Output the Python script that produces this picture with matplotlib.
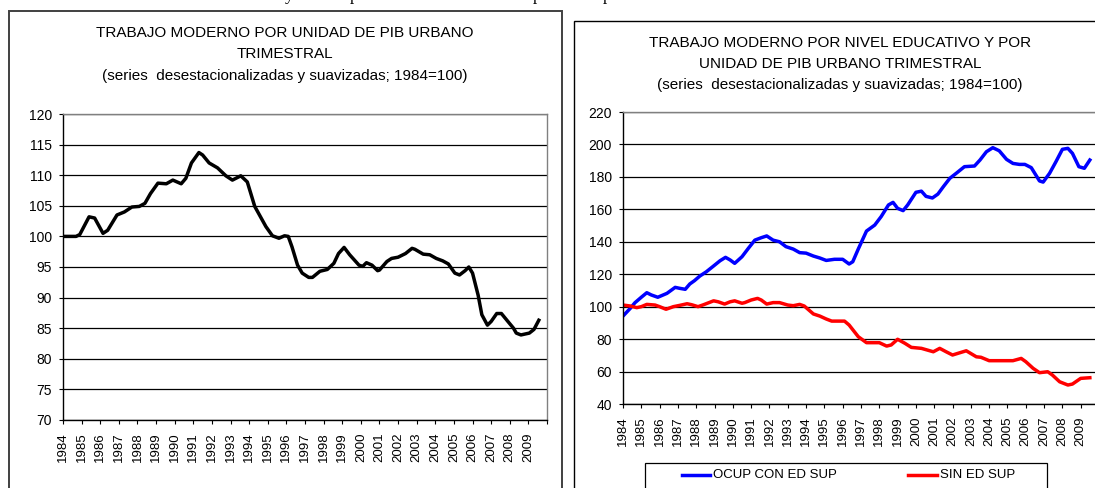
import matplotlib
matplotlib.use("Agg")
import matplotlib.pyplot as plt
from matplotlib.patches import Rectangle
from matplotlib.lines import Line2D

plt.rcParams["font.family"] = ["Liberation Sans", "DejaVu Sans"]

# --- datos ---
# izquierda: trabajo moderno por unidad de PIB urbano (1984=100)
left_x = [1984.0, 1984.7, 1984.9, 1985.4, 1985.7, 1986.15, 1986.4, 1986.9, 1987.3, 1987.7,
          1988.1, 1988.4, 1988.7, 1989.1, 1989.55, 1989.9, 1990.35, 1990.6, 1990.9, 1991.3,
          1991.5, 1991.85, 1992.3, 1992.75, 1993.1, 1993.55, 1993.9, 1994.3, 1994.9, 1995.25,
          1995.6, 1995.9, 1996.1, 1996.3, 1996.6, 1996.85, 1997.2, 1997.4, 1997.8, 1998.2,
          1998.55, 1998.8, 1999.1, 1999.4, 1999.9, 2000.1, 2000.3, 2000.6, 2000.9, 2001.0,
          2001.4, 2001.65, 2002.0, 2002.4, 2002.75, 2002.9, 2003.35, 2003.7, 2004.05, 2004.4,
          2004.7, 2005.05, 2005.3, 2005.6, 2005.8, 2006.0, 2006.3, 2006.5, 2006.8, 2007.0,
          2007.3, 2007.55, 2007.9, 2008.2, 2008.35, 2008.6, 2009.05, 2009.3, 2009.56]
left_y = [100.0, 100.0, 100.3, 103.2, 103.0, 100.5, 101.0, 103.5, 104.0, 104.8,
          104.9, 105.4, 107.0, 108.7, 108.6, 109.2, 108.6, 109.5, 112.0, 113.7,
          113.3, 112.0, 111.2, 109.9, 109.2, 109.9, 108.9, 104.9, 101.6, 100.1,
          99.7, 100.1, 100.0, 98.3, 95.3, 94.0, 93.3, 93.3, 94.3, 94.6,
          95.6, 97.2, 98.2, 97.0, 95.3, 95.1, 95.7, 95.3, 94.4, 94.5,
          95.9, 96.4, 96.6, 97.2, 98.05, 97.9, 97.1, 97.0, 96.4, 96.0,
          95.5, 94.0, 93.7, 94.4, 95.0, 94.0, 90.4, 87.2, 85.5, 86.1,
          87.4, 87.4, 86.1, 85.0, 84.2, 83.9, 84.2, 84.8, 86.3]

# derecha: por nivel educativo
sup_x = [1984.0, 1984.4, 1984.65, 1985.0, 1985.3, 1985.55, 1985.9, 1986.4, 1986.85, 1987.1,
         1987.4, 1987.65, 1987.9, 1988.2, 1988.55, 1988.95, 1989.3, 1989.6, 1989.85, 1990.1,
         1990.5, 1990.85, 1991.2, 1991.55, 1991.85, 1992.2, 1992.55, 1992.9, 1993.3, 1993.65,
         1994.0, 1994.4, 1994.75, 1995.1, 1995.55, 1996.0, 1996.35, 1996.55, 1996.85, 1997.3,
         1997.75, 1998.1, 1998.5, 1998.75, 1999.0, 1999.3, 1999.55, 2000.0, 2000.3, 2000.55,
         2000.9, 2001.2, 2001.5, 2001.85, 2002.2, 2002.65, 2003.2, 2003.5, 2003.85, 2004.2,
         2004.55, 2004.95, 2005.3, 2005.65, 2005.95, 2006.3, 2006.75, 2006.95, 2007.3, 2007.65,
         2008.0, 2008.3, 2008.55, 2008.9, 2009.2, 2009.5]
sup_y = [94.2, 99.0, 102.4, 105.8, 108.6, 107.2, 105.8, 108.2, 111.9, 111.3,
         110.7, 114.0, 116.0, 118.9, 121.5, 125.1, 128.3, 130.4, 128.8, 126.7,
         130.8, 136.0, 141.0, 142.5, 143.6, 141.0, 140.0, 137.0, 135.5, 133.3,
         133.0, 131.2, 130.0, 128.5, 129.2, 129.2, 126.3, 127.7, 135.5, 146.6,
         150.3, 155.5, 162.7, 164.3, 160.6, 159.2, 162.7, 170.5, 171.2, 168.0,
         167.0, 169.4, 174.0, 179.1, 182.2, 186.3, 186.7, 190.4, 195.5, 198.0,
         196.1, 190.8, 188.3, 187.7, 187.7, 185.7, 177.5, 176.8, 182.2, 189.4,
         197.0, 197.6, 194.5, 186.3, 185.3, 190.4]

sin_x = [1984.0, 1984.4, 1984.75, 1985.0, 1985.3, 1985.75, 1986.0, 1986.35, 1986.75, 1987.1,
         1987.5, 1987.75, 1988.1, 1988.4, 1988.95, 1989.2, 1989.55, 1989.85, 1990.1, 1990.5,
         1990.65, 1991.0, 1991.35, 1991.55, 1991.85, 1992.2, 1992.55, 1993.0, 1993.3, 1993.65,
         1993.9, 1994.4, 1994.75, 1995.1, 1995.4, 1996.1, 1996.35, 1996.85, 1997.3, 1998.0,
         1998.4, 1998.65, 1999.0, 1999.4, 1999.75, 2000.3, 2000.95, 2001.3, 2001.65, 2002.0,
         2002.4, 2002.75, 2003.3, 2003.55, 2004.0, 2005.3, 2005.75, 2006.0, 2006.4, 2006.75,
         2007.2, 2007.45, 2007.85, 2008.3, 2008.55, 2009.0, 2009.5]
sin_y = [101.0, 100.4, 99.4, 100.0, 101.4, 101.0, 100.0, 98.4, 100.0, 100.8,
         101.8, 101.2, 100.0, 101.2, 103.6, 103.0, 101.6, 103.0, 103.6, 102.1,
         102.5, 104.1, 105.1, 104.1, 101.6, 102.5, 102.5, 101.0, 100.6, 101.4,
         100.4, 95.5, 94.2, 92.4, 91.1, 91.1, 88.7, 81.5, 77.8, 77.8,
         75.7, 76.4, 79.9, 77.4, 74.9, 74.3, 72.2, 74.3, 72.2, 70.2,
         71.6, 72.8, 69.1, 68.8, 66.7, 66.7, 68.1, 66.1, 62.0, 59.3,
         59.9, 57.9, 53.7, 51.7, 52.3, 55.8, 56.2]

years = list(range(1984, 2011))
year_labels = [str(y) for y in range(1984, 2010)] + [""]

left_title = ("TRABAJO MODERNO POR UNIDAD DE PIB URBANO\nTRIMESTRAL\n"
              "(series  desestacionalizadas y suavizadas; 1984=100)")
right_title = ("TRABAJO MODERNO POR NIVEL EDUCATIVO Y POR\nUNIDAD DE PIB URBANO TRIMESTRAL\n"
               "(series  desestacionalizadas y suavizadas; 1984=100)")

W, H = 1095, 488
fig = plt.figure(figsize=(W / 100, H / 100), dpi=100)


def px(x0, y0, x1, y1):
    # caja en pixeles (origen arriba a la izquierda) -> fracciones de figura
    return [x0 / W, 1 - y1 / H, (x1 - x0) / W, (y1 - y0) / H]


def style_axes(ax, yticks):
    ax.set_xlim(1984, 2010)
    ax.set_xticks(years)
    ax.set_xticklabels(year_labels, rotation=90, fontsize=9.5)
    ax.set_yticks(yticks)
    ax.tick_params(axis="y", direction="out", length=3, width=0.8, pad=5, labelsize=10)
    ax.tick_params(axis="x", direction="out", length=3, width=0.8, pad=6)
    ax.grid(axis="y", color="black", linewidth=0.9)
    ax.grid(axis="x", visible=False)
    for s in ["left", "bottom"]:
        ax.spines[s].set_color("black")
        ax.spines[s].set_linewidth(1.0)
    for s in ["top", "right"]:
        ax.spines[s].set_color("#808080")
        ax.spines[s].set_linewidth(1.0)


# marcos de los dos graficos
fig.add_artist(Rectangle((9 / W, -0.1), (562 - 9) / W, 1.1 - 11 / H,
                         transform=fig.transFigure, fill=False,
                         edgecolor="#404040", linewidth=1.4))
fig.add_artist(Rectangle((574 / W, -0.1), 0.5, 1.1 - 21 / H,
                         transform=fig.transFigure, fill=False,
                         edgecolor="black", linewidth=1.0))

# restos del texto del documento (cortado arriba, como en la imagen original)
for ch, xc in [("y", 289), ("p", 354), ("p", 537), ("p", 607)]:
    fig.text(xc / W, 1.0, ch, family=["Liberation Serif", "DejaVu Serif"],
             fontsize=12.5, ha="center", va="baseline")

# --- panel izquierdo ---
ax1 = fig.add_axes(px(63, 114, 547, 420))
ax1.plot(left_x, left_y, color="black", linewidth=2.5, solid_joinstyle="round")
ax1.set_ylim(70, 120)
style_axes(ax1, range(70, 121, 5))
for i, line in enumerate(left_title.split("\n")):
    fig.text(285 / W, 1 - (33 + i * 21.5) / H, line, ha="center", va="center", fontsize=11)

# --- panel derecho ---
ax2 = fig.add_axes(px(623, 112, 1099, 404))
l1, = ax2.plot(sup_x, sup_y, color="#0000FF", linewidth=2.5, solid_joinstyle="round")
l2, = ax2.plot(sin_x, sin_y, color="#FF0000", linewidth=2.5, solid_joinstyle="round")
ax2.set_ylim(40, 220)
style_axes(ax2, range(40, 221, 20))
for i, line in enumerate(right_title.split("\n")):
    fig.text(840 / W, 1 - (43 + i * 21) / H, line, ha="center", va="center", fontsize=11)

# leyenda
fig.add_artist(Rectangle((645 / W, -0.1), (1047 - 645) / W, 0.1 + 1 - 463 / H,
                         transform=fig.transFigure, fill=False,
                         edgecolor="black", linewidth=0.9))
ly = 1 - 475 / H
for ln, x0, x1, label in [(l1, 682, 710, "OCUP CON ED SUP"), (l2, 908, 937, "SIN ED SUP")]:
    fig.add_artist(Line2D([x0 / W, x1 / W], [ly, ly], transform=fig.transFigure,
                          color=ln.get_color(), linewidth=2.5))
    fig.text((x1 + 3) / W, ly, label, ha="left", va="center", fontsize=9.5)

fig.savefig("out.png", dpi=100)
